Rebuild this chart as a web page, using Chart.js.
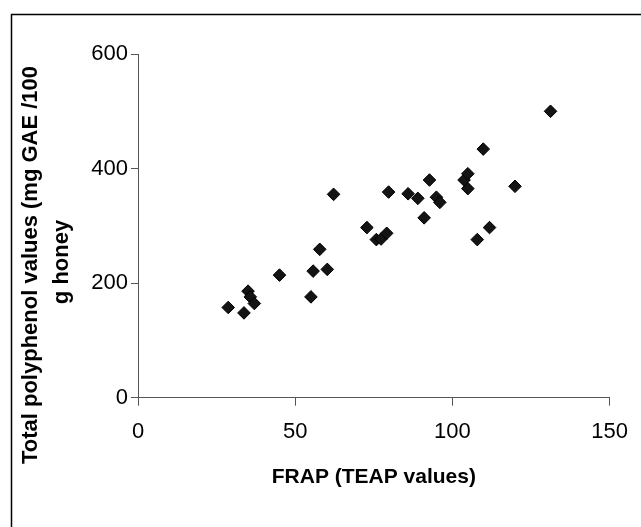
<!DOCTYPE html>
<html>
<head>
<meta charset="utf-8">
<script src="https://cdn.jsdelivr.net/npm/chart.js@4/dist/chart.umd.min.js"></script>
<style>
  html, body { margin: 0; padding: 0; background: #fff; }
  #wrap { position: relative; width: 641px; height: 527px; }
  canvas { display: block; }
</style>
</head>
<body>
<div id="wrap"><canvas id="c" width="641" height="527"></canvas></div>
<script>
// FRAP (TEAP values) on x, total polyphenol (mg GAE/100 g honey) on y
const frapValues = [28.7, 33.7, 35.0, 35.7, 37.0, 45.0, 55.0, 55.7, 57.8, 60.2,
                    62.2, 72.8, 75.8, 77.3, 79.1, 79.7, 85.9, 89.0, 91.0, 92.7,
                    94.9, 96.0, 103.7, 104.9, 104.9, 107.9, 109.8, 111.8, 119.9, 131.2];
const polyphenolValues = [157.5, 148, 186, 176, 164.5, 214, 176, 221, 259, 224,
                          355, 297, 276, 277, 287, 359, 356, 348, 314, 380,
                          350, 341, 380, 391, 365, 276, 434, 297, 369, 500];
const xTickValues = [0, 50, 100, 150];
const yTickValues = [0, 200, 400, 600];
const xTitle = 'FRAP (TEAP values)';
const yTitleLines = ['Total polyphenol values (mg GAE /100', 'g honey'];

const points = frapValues.map((x, i) => ({ x: x, y: polyphenolValues[i] }));
const FONT = "'Liberation Sans', Arial, sans-serif";

const framePlugin = {
  id: 'frame',
  beforeDraw(chart) {
    const ctx = chart.ctx;
    ctx.save();
    ctx.fillStyle = '#fff';
    ctx.fillRect(0, 0, chart.width, chart.height);
    ctx.strokeStyle = '#000';
    ctx.lineWidth = 1.5;
    ctx.strokeRect(11.5, 14.5, 800, 700);
    ctx.restore();
  },
  afterDraw(chart) {
    const ctx = chart.ctx;
    ctx.save();
    ctx.fillStyle = '#000';
    ctx.font = 'bold 22px ' + FONT;
    ctx.textAlign = 'center';
    ctx.textBaseline = 'middle';
    const pos = [[31, 265], [62, 262]];
    yTitleLines.forEach((t, i) => {
      ctx.save();
      ctx.translate(pos[i][0], pos[i][1]);
      ctx.rotate(-Math.PI / 2);
      ctx.fillText(t, 0, 0);
      ctx.restore();
    });
    ctx.restore();
  }
};

new Chart(document.getElementById('c'), {
  type: 'scatter',
  data: {
    datasets: [{
      data: points,
      pointStyle: 'rectRot',
      pointRadius: 6.3,
      pointHoverRadius: 6.3,
      backgroundColor: '#141414',
      borderColor: '#000',
      borderWidth: 1
    }]
  },
  options: {
    responsive: false,
    animation: false,
    events: [],
    layout: { padding: { left: 0, top: 54, right: 30.3, bottom: 0 } },
    plugins: { legend: { display: false }, tooltip: { enabled: false } },
    scales: {
      x: {
        type: 'linear',
        min: 0, max: 150,
        afterBuildTicks: (s) => { s.ticks = xTickValues.map(v => ({ value: v })); },
        afterFit: (s) => { s.height = 129.3; },
        grid: { drawOnChartArea: false, drawTicks: true, tickLength: 8, color: '#555', lineWidth: 1 },
        border: { display: true, color: '#555', width: 1 },
        ticks: { color: '#000', font: { family: FONT, size: 22 }, padding: 13, maxRotation: 0 },
        title: { display: true, text: xTitle, color: '#000', font: { family: FONT, size: 21, weight: 'bold' }, padding: { top: 0, bottom: 37 } }
      },
      y: {
        type: 'linear',
        min: 0, max: 600,
        afterBuildTicks: (s) => { s.ticks = yTickValues.map(v => ({ value: v })); },
        afterFit: (s) => { s.width = 138; },
        grid: { drawOnChartArea: false, drawTicks: true, tickLength: 7, color: '#555', lineWidth: 1 },
        border: { display: true, color: '#555', width: 1 },
        ticks: { color: '#000', font: { family: FONT, size: 22 }, padding: 3 }
      }
    }
  },
  plugins: [framePlugin]
});
</script>
</body>
</html>
